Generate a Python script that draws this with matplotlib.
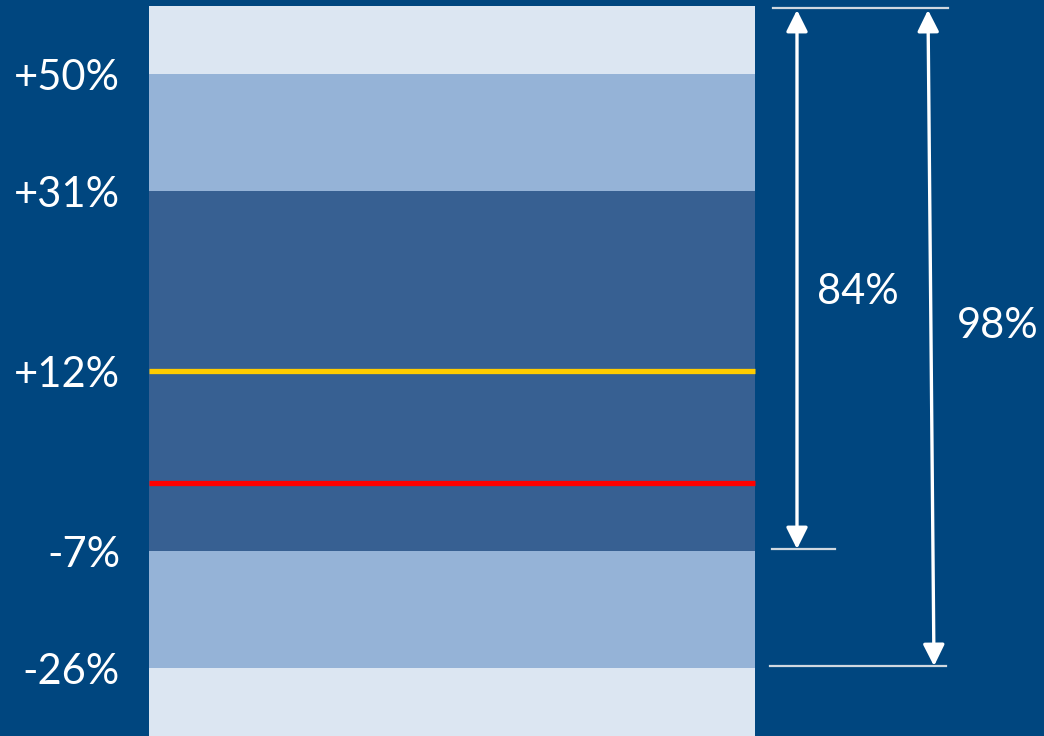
import matplotlib
matplotlib.use("Agg")
import matplotlib.pyplot as plt
from matplotlib.patches import FancyArrowPatch

# ---- data (schematic chart; vertical positions in pixel-like units, top = 0) ----
level_labels = ["+50%", "+31%", "+12%", "-7%", "-26%"]
level_pos = [74, 191, 371, 551, 668]
band_edges = [6, 74, 191, 551, 668, 736]
band_colors = ["#DCE6F2", "#95B3D7", "#376092", "#95B3D7", "#DCE6F2"]
yellow_level = 371
red_level = 483
range_labels = ["84%", "98%"]

BG = "#00467F"
W, H = 1044, 736

fig = plt.figure(figsize=(W / 100, H / 100), dpi=100, facecolor=BG)
ax = fig.add_axes([0, 0, 1, 1])
ax.set_facecolor(BG)
ax.set_xlim(0, W)
ax.set_ylim(H, 0)
ax.axis("off")

font = ["Lato", "DejaVu Sans"]
col_x0, col_x1 = 149, 755
fs = 30

# bands
for top, bot, c in zip(band_edges[:-1], band_edges[1:], band_colors):
    ax.fill_between([col_x0, col_x1], top, bot, color=c, linewidth=0, zorder=1)

# yellow and red lines
ax.plot([col_x0, col_x1], [yellow_level, yellow_level], color="#FFCC00", lw=3.8,
        solid_capstyle="butt", zorder=3)
ax.plot([col_x0, col_x1], [red_level, red_level], color="#FF0000", lw=3.8,
        solid_capstyle="butt", zorder=3)

# level labels
for lab, y in zip(level_labels, level_pos):
    ax.text(120, y + 4, lab, color="white", fontsize=fs, family=font,
            ha="right", va="center")

# reference horizontal lines on the right
lc = "#D0D8E0"
ax.plot([773, 948], [band_edges[0] + 2, band_edges[0] + 2], color=lc, lw=1.6, zorder=2)
ax.plot([772, 835], [level_pos[3] - 2, level_pos[3] - 2], color=lc, lw=1.6, zorder=2)
ax.plot([770, 946], [level_pos[4] - 2, level_pos[4] - 2], color=lc, lw=1.6, zorder=2)

# double-headed arrows
def darrow(x0, y0, x1, y1):
    a = FancyArrowPatch((x0, y0), (x1, y1), arrowstyle="<|-|>,head_length=13,head_width=6.5",
                        color="white", lw=2.4, mutation_scale=1, shrinkA=0, shrinkB=0, zorder=4)
    ax.add_patch(a)

darrow(797, band_edges[0] + 4, 797, level_pos[3] - 2)
darrow(928, band_edges[0] + 4, 934, level_pos[4] - 2)

ax.text(858, 292, range_labels[0], color="white", fontsize=fs, family=font,
        ha="center", va="center")
ax.text(998, 326, range_labels[1], color="white", fontsize=fs, family=font,
        ha="center", va="center")

fig.savefig("out.png", dpi=100, facecolor=BG)
